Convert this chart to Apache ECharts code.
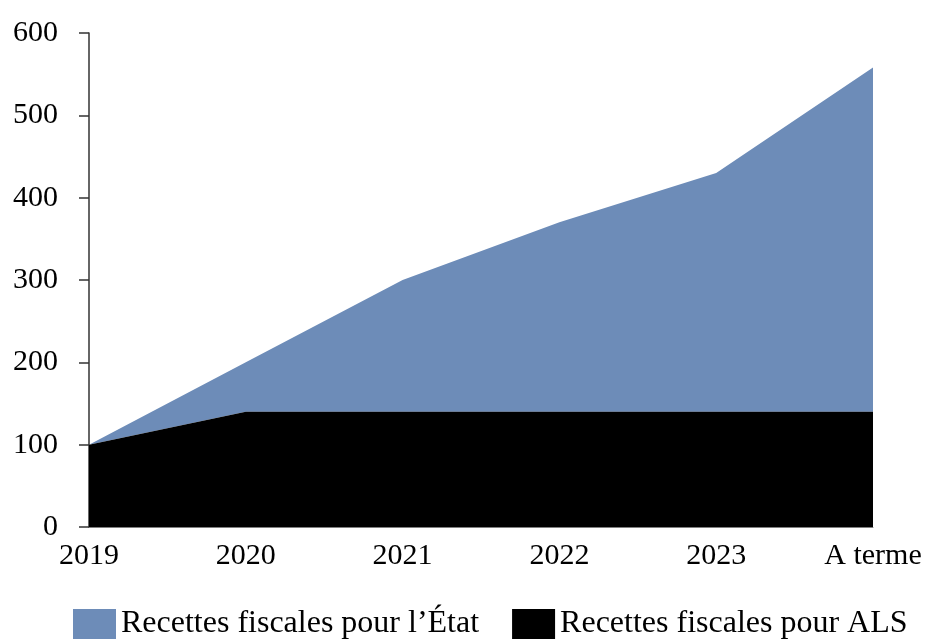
<!DOCTYPE html>
<html>
<head>
<meta charset="utf-8">
<script src="https://cdn.jsdelivr.net/npm/echarts@6/dist/echarts.min.js"></script>
<style>html,body{margin:0;padding:0;background:#fff}#c{width:932px;height:639px}</style>
</head>
<body>
<div id="c"></div>
<script>
const categories = ['2019', '2020', '2021', '2022', '2023', 'A terme'];
const alsValues = [100, 140, 140, 140, 140, 140];
const etatValues = [0, 60, 160, 230, 290, 418];
const yTicks = [0, 100, 200, 300, 400, 500, 600];
const seriesNames = ['Recettes fiscales pour l\u2019État', 'Recettes fiscales pour ALS'];

const font = 'Liberation Serif';
const chart = echarts.init(document.getElementById('c'));
chart.setOption({
  animation: false,
  grid: { left: 89, right: 59, top: 33, bottom: 112, containLabel: false },
  legend: {
    data: [seriesNames[0], seriesNames[1]],
    left: 73, top: 608, padding: 0,
    itemWidth: 43, itemHeight: 30, itemGap: 33,
    icon: 'rect',
    textStyle: { fontFamily: font, fontSize: 32, color: '#000' }
  },
  xAxis: {
    type: 'category', data: categories, boundaryGap: false,
    axisLine: { lineStyle: { color: '#7f7f7f', width: 1 } },
    axisTick: { show: false },
    axisLabel: { fontFamily: font, fontSize: 30, color: '#000', margin: 14, interval: 0 },
    splitLine: { show: false }
  },
  yAxis: {
    type: 'value', min: yTicks[0], max: yTicks[yTicks.length - 1], interval: 100,
    axisLine: { show: true, lineStyle: { color: '#333333', width: 1.5 } },
    axisTick: { show: true, inside: false, length: 10, lineStyle: { color: '#333333', width: 1.5 } },
    axisLabel: { fontFamily: font, fontSize: 30, color: '#000', margin: 31 },
    splitLine: { show: false }
  },
  series: [
    {
      name: seriesNames[1], type: 'line', stack: 'total', data: alsValues,
      symbol: 'none', lineStyle: { width: 0 },
      areaStyle: { color: '#000000', opacity: 1 },
      itemStyle: { color: '#000000' }, z: 3
    },
    {
      name: seriesNames[0], type: 'line', stack: 'total', data: etatValues,
      symbol: 'none', lineStyle: { width: 0 },
      areaStyle: { color: '#6d8cb8', opacity: 1 },
      itemStyle: { color: '#6d8cb8' }, z: 2
    }
  ]
});
</script>
</body>
</html>
